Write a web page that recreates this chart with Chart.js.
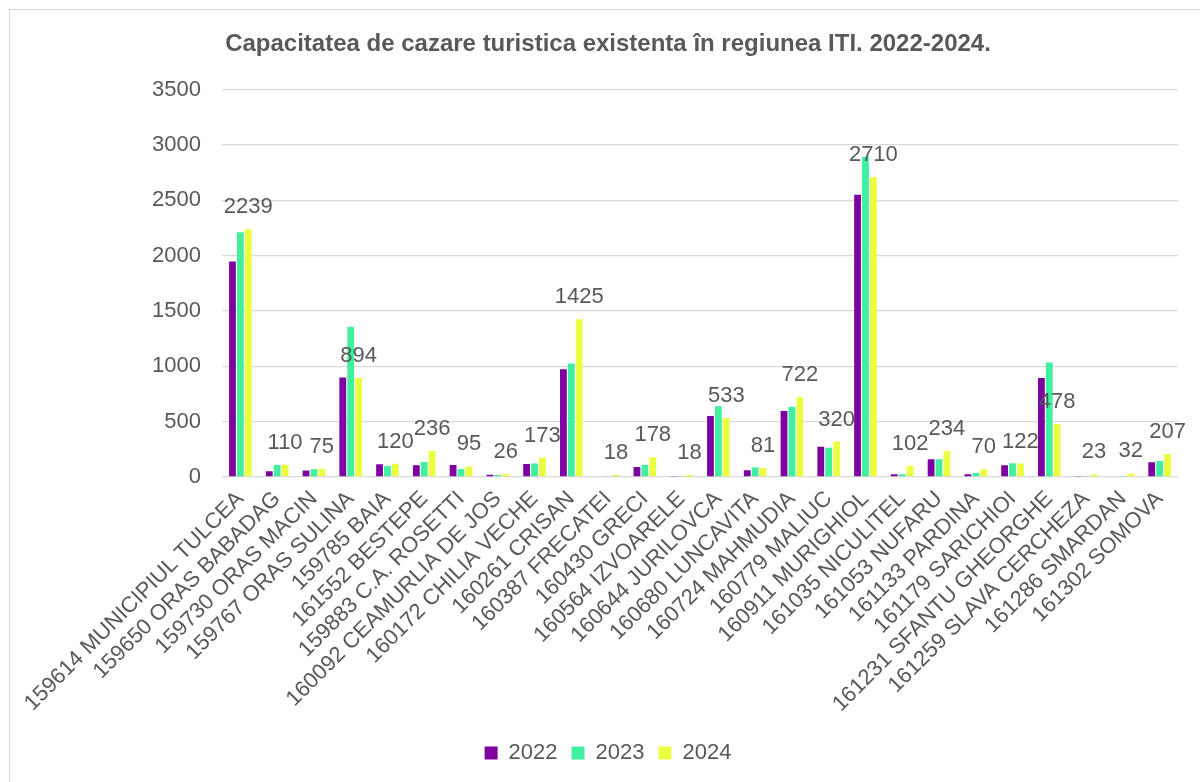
<!DOCTYPE html>
<html lang="ro">
<head>
<meta charset="utf-8">
<title>Capacitatea de cazare turistica ITI</title>
<script src="https://cdn.jsdelivr.net/npm/chart.js@4.4.1/dist/chart.umd.min.js"></script>
<style>
    html, body { margin: 0; padding: 0; background: #fff; overflow: hidden; }
    .chart-box {
        position: absolute;
        left: 9px;
        top: 9px;
        width: 1196px;
        height: 772px;
        border: 1px solid #d9d9d9;
    }
</style>
</head>
<body>
<div class="chart-box">
    <canvas id="barChart" width="1196" height="772"></canvas>
</div>
<script>
// Localitati (UAT) din regiunea ITI
const categories = [
    '159614 MUNICIPIUL TULCEA', '159650 ORAS BABADAG', '159730 ORAS MACIN', '159767 ORAS SULINA',
    '159785 BAIA', '161552 BESTEPE', '159883 C.A. ROSETTI', '160092 CEAMURLIA DE JOS',
    '160172 CHILIA VECHE', '160261 CRISAN', '160387 FRECATEI', '160430 GRECI',
    '160564 IZVOARELE', '160644 JURILOVCA', '160680 LUNCAVITA', '160724 MAHMUDIA',
    '160779 MALIUC', '160911 MURIGHIOL', '161035 NICULITEL', '161053 NUFARU',
    '161133 PARDINA', '161179 SARICHIOI', '161231 SFANTU GHEORGHE', '161259 SLAVA CERCHEZA',
    '161286 SMARDAN', '161302 SOMOVA'
];

// Locuri de cazare pe ani (2022 si 2023 estimate din grafic)
const values2022 = [1948, 52, 58, 900, 115, 106, 109, 21, 118, 973, 0, 91, 8, 551, 61, 597, 273, 2552, 24, 161, 24, 106, 894, 9, 0, 133];
const values2023 = [2212, 108, 70, 1355, 100, 136, 73, 18, 121, 1027, 5, 109, 10, 639, 85, 636, 264, 2894, 24, 161, 36, 124, 1036, 9, 5, 145];
const values2024 = [2239, 110, 75, 894, 120, 236, 95, 26, 173, 1425, 18, 178, 18, 533, 81, 722, 320, 2710, 102, 234, 70, 122, 478, 23, 32, 207];

const yTicks = [0, 500, 1000, 1500, 2000, 2500, 3000, 3500];

const textColor = '#595959';
const fontFamily = "'Liberation Sans', Arial, sans-serif";

// Etichete de valoare doar pentru seria 2024
const valueLabels = {
    id: 'valueLabels',
    afterDatasetsDraw(chart) {
        const ctx = chart.ctx;
        const meta = chart.getDatasetMeta(2);
        ctx.save();
        ctx.font = '22px ' + fontFamily;
        ctx.fillStyle = textColor;
        ctx.textAlign = 'center';
        ctx.textBaseline = 'alphabetic';
        meta.data.forEach((bar, i) => {
            ctx.fillText(String(values2024[i]), bar.x, bar.y - 16);
        });
        ctx.restore();
    }
};

document.addEventListener('DOMContentLoaded', function () {
    renderChart();
});

function renderChart() {
    const ctx = document.getElementById('barChart').getContext('2d');

    new Chart(ctx, {
        type: 'bar',
        data: {
            labels: categories,
            datasets: [
                { label: '2022', data: values2022, backgroundColor: '#7f00a0' },
                { label: '2023', data: values2023, backgroundColor: '#40ef9f' },
                { label: '2024', data: values2024, backgroundColor: '#ebff40' }
            ]
        },
        options: {
            responsive: false,
            animation: false,
            layout: { padding: { top: 0, right: 28, bottom: 8, left: 28 } },
            datasets: {
                bar: { categoryPercentage: 0.645, barPercentage: 0.86 }
            },
            plugins: {
                title: {
                    display: true,
                    text: 'Capacitatea de cazare turistica existenta în regiunea ITI. 2022-2024.',
                    color: textColor,
                    font: { family: fontFamily, size: 24, weight: 'bold' },
                    padding: { top: 20, bottom: 31 }
                },
                legend: {
                    position: 'bottom',
                    labels: {
                        color: textColor,
                        font: { family: fontFamily, size: 22 },
                        boxWidth: 13,
                        boxHeight: 13,
                        padding: 14
                    }
                },
                tooltip: { enabled: false }
            },
            scales: {
                x: {
                    grid: { display: false },
                    border: { display: false },
                    ticks: {
                        color: textColor,
                        font: { family: fontFamily, size: 22 },
                        autoSkip: false,
                        minRotation: 45,
                        maxRotation: 45,
                        padding: 1
                    },
                    afterFit(scale) { scale.height = 251; }
                },
                y: {
                    min: 0,
                    max: 3500,
                    afterBuildTicks(scale) {
                        scale.ticks = yTicks.map(v => ({ value: v }));
                    },
                    grid: { color: '#d9d9d9', lineWidth: 1.3, drawTicks: false },
                    border: { display: false },
                    ticks: {
                        color: textColor,
                        font: { family: fontFamily, size: 22 },
                        padding: 21,
                        callback: value => String(value)
                    },
                    afterFit(scale) { scale.width = 184; }
                }
            }
        },
        plugins: [valueLabels]
    });
}
</script>
</body>
</html>
